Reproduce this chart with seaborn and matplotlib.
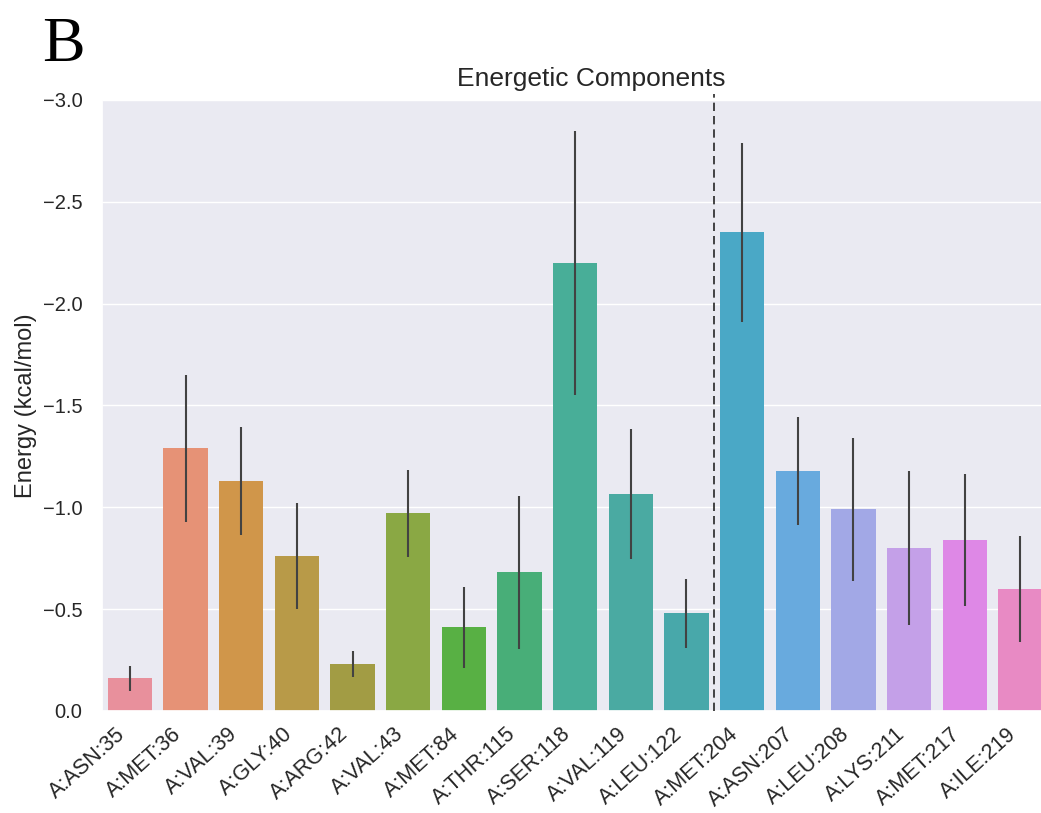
import numpy as np
import pandas as pd
import matplotlib
matplotlib.use("Agg")
import matplotlib.pyplot as plt
import seaborn as sns

residues = ["A:ASN:35", "A:MET:36", "A:VAL:39", "A:GLY:40", "A:ARG:42",
            "A:VAL:43", "A:MET:84", "A:THR:115", "A:SER:118", "A:VAL:119",
            "A:LEU:122", "A:MET:204", "A:ASN:207", "A:LEU:208", "A:LYS:211",
            "A:MET:217", "A:ILE:219"]
energy = [-0.16, -1.29, -1.13, -0.76, -0.23, -0.97, -0.41, -0.68, -2.20,
          -1.065, -0.48, -2.35, -1.18, -0.99, -0.80, -0.84, -0.60]
energy_err = [0.06, 0.36, 0.265, 0.26, 0.065, 0.215, 0.20, 0.375, 0.65,
              0.32, 0.17, 0.44, 0.265, 0.35, 0.38, 0.325, 0.26]
yticks = [0.0, -0.5, -1.0, -1.5, -2.0, -2.5, -3.0]
split_after = "A:LEU:122"

bar_colors = ["#E8909C", "#E69276", "#D0964A", "#B89A48", "#A29C44",
              "#8AA844", "#58B044", "#48AE78", "#48AE98", "#4AAAA2",
              "#48A8AA", "#4AA8C6", "#68AADE", "#A2A8E6", "#C4A0E8",
              "#DE88E6", "#E88AC4"]

df = pd.DataFrame({"residue": residues, "energy": energy, "err": energy_err})

sns.set_theme(style="darkgrid")
plt.rcParams["font.family"] = ["Liberation Sans", "DejaVu Sans"]

fig = plt.figure(figsize=(10.41, 8.13), dpi=100)
ax = fig.add_axes([0.098, 0.1255, 0.909, 0.7515])

sns.barplot(data=df, x="residue", y="energy", hue="residue",
            palette=bar_colors, saturation=1, linewidth=0,
            legend=False, errorbar=None, ax=ax)

pos = np.arange(len(residues))
ax.errorbar(pos, df["energy"], yerr=df["err"], fmt="none",
            ecolor=".26", elinewidth=1.5, capsize=0, zorder=3)

split_x = residues.index(split_after) + 0.5
ax.plot([split_x, split_x], [0.0, -3.03], ls=(0, (5, 3)), color="0.15", lw=1.2,
        clip_on=False, zorder=4)

ax.set_ylim(0.0, -3.0)
ax.set_yticks(yticks)
ax.set_yticklabels([f"{t:.1f}".replace("-", "\u2212") if t != 0 else "0.0" for t in yticks])
ax.set_xlim(-0.5, len(residues) - 0.5)
ax.set_xlabel("")
ax.set_ylabel("Energy (kcal/mol)", fontsize=17, color="0.15")
ax.set_title("Energetic Components", fontsize=19, x=0.517, pad=10, color="0.15")
ax.tick_params(axis="y", labelsize=14.5, pad=8, labelcolor="0.15")
ax.tick_params(axis="x", labelsize=15.5, pad=3, labelcolor="0.15")
plt.setp(ax.get_xticklabels(), rotation=42, ha="right")

fig.text(0.04, 0.925, "B", fontsize=46, family=["Liberation Serif", "DejaVu Serif"],
         color="black")

fig.savefig("out.png", dpi=100)
